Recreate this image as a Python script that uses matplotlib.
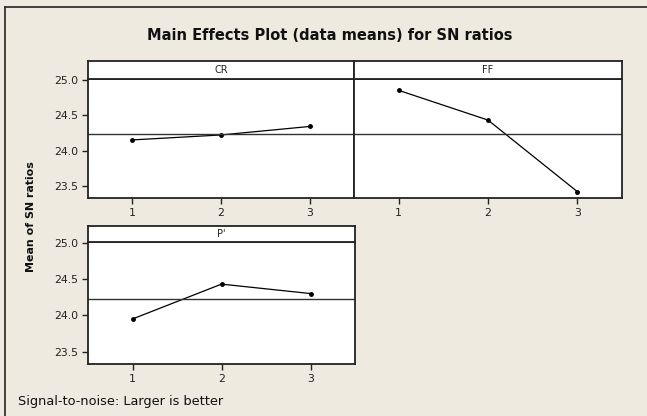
import matplotlib
matplotlib.use("Agg")
import matplotlib.pyplot as plt

W, H = 647, 416

levels = [1, 2, 3]
panel_names = ["CR", "FF", "P'"]
cr_means = [24.15, 24.22, 24.34]
ff_means = [24.85, 24.43, 23.42]
p_means = [23.95, 24.43, 24.30]
grand_mean = 24.23
yticks = [23.5, 24.0, 24.5, 25.0]
ytick_labels = ["23.5", "24.0", "24.5", "25.0"]

title = "Main Effects Plot (data means) for SN ratios"
ylabel = "Mean of SN ratios"
footer = "Signal-to-noise: Larger is better"

bg = "#EEEAE0"
font = "DejaVu Sans"

fig = plt.figure(figsize=(W / 100, H / 100), dpi=100, facecolor=bg)


def rect(l, t, r, b):
    return [l / W, 1 - b / H, (r - l) / W, (b - t) / H]


def panel(l, r, t_strip, t, b, name, vals, show_y):
    ax = fig.add_axes(rect(l, t, r, b))
    ax.set_facecolor("white")
    ax.plot(levels, vals, color="black", lw=0.9, marker="o", ms=2.5)
    ax.axhline(grand_mean, color="#333333", lw=1.0)
    ax.set_xlim(0.5, 3.5)
    ax.set_ylim(23.33, 25.01)
    ax.set_xticks(levels)
    ax.set_xticklabels([str(v) for v in levels], fontsize=7.8, family=font)
    if show_y:
        ax.set_yticks(yticks)
        ax.set_yticklabels(ytick_labels, fontsize=7.8, family=font)
    else:
        ax.set_yticks([])
    ax.tick_params(length=4, width=1.0, color="#222222", labelcolor="#222222", pad=3)
    for s in ax.spines.values():
        s.set_linewidth(1.3)
        s.set_color("#222222")
    st = fig.add_axes(rect(l, t_strip, r, t))
    st.set_facecolor("white")
    st.set_xticks([])
    st.set_yticks([])
    for s in st.spines.values():
        s.set_linewidth(1.3)
        s.set_color("#222222")
    st.text(0.5, 0.5, name, ha="center", va="center", fontsize=7, family=font,
            color="#222222", transform=st.transAxes)
    return ax


panel(88, 354, 61, 79, 198, panel_names[0], cr_means, True)
panel(354, 622, 61, 79, 198, panel_names[1], ff_means, False)
panel(88, 355, 226, 242, 364, panel_names[2], p_means, True)

fig.text(330 / W, 1 - 36 / H, title, ha="center", va="center", fontsize=10.5,
         fontweight="bold", family=font, color="#111111")
fig.text(31 / W, 1 - 217 / H, ylabel, ha="center", va="center", rotation=90,
         fontsize=7.9, fontweight="bold", family=font, color="#111111")
fig.text(18 / W, 1 - 401 / H, footer, ha="left", va="center", fontsize=9.3,
         family=font, color="#111111")

# outer border lines (top and left)
fig.add_artist(plt.Line2D([5 / W, 1], [1 - 7 / H, 1 - 7 / H], color="#333333", lw=1.3,
                          transform=fig.transFigure))
fig.add_artist(plt.Line2D([5 / W, 5 / W], [0, 1 - 7 / H], color="#333333", lw=1.3,
                          transform=fig.transFigure))

fig.savefig("out.png", dpi=100, facecolor=bg)
